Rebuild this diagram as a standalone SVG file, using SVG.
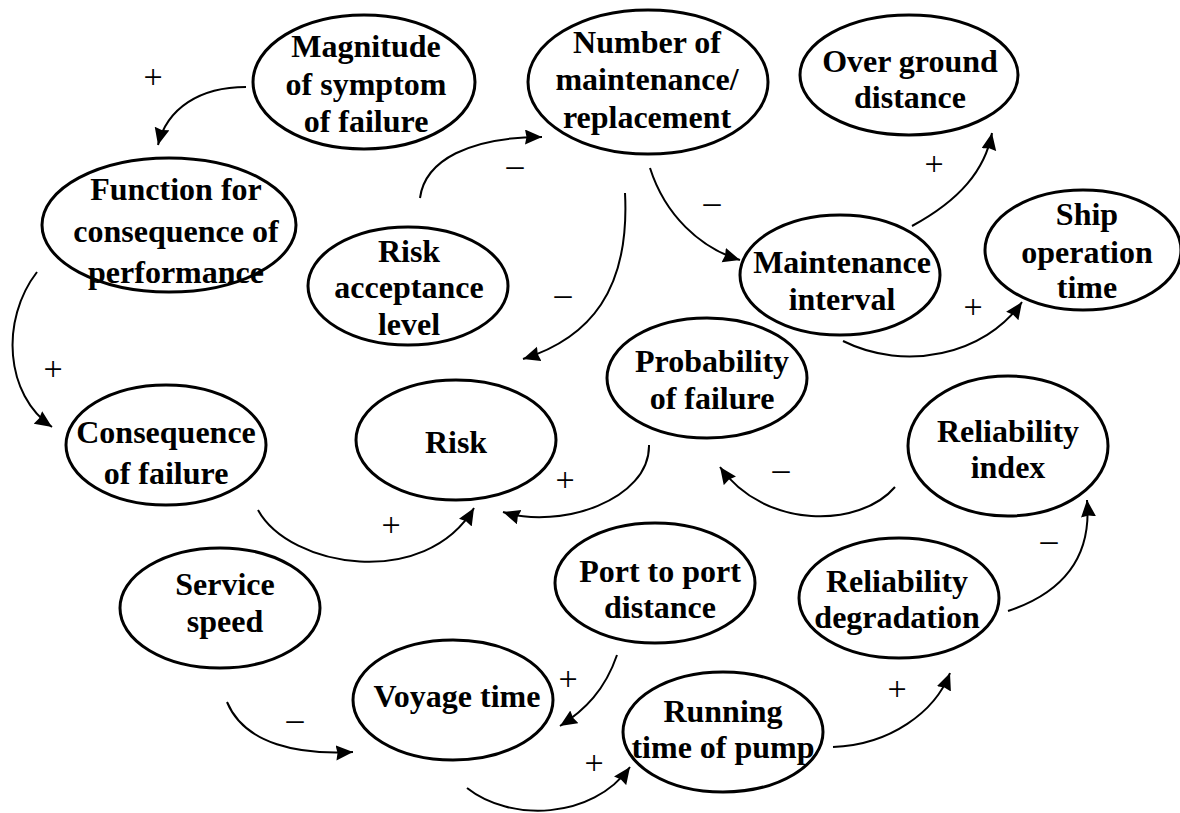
<svg xmlns="http://www.w3.org/2000/svg" width="1180" height="813" viewBox="0 0 1180 813">
  <style>
    .node ellipse { fill: #ffffff; stroke: #000000; stroke-width: 3; }
    .node text { font-family: "Liberation Serif", "Times New Roman", serif; font-weight: bold; font-size: 32px; text-anchor: middle; fill: #000000; }
    .link { fill: none; stroke: #000000; stroke-width: 2; marker-end: url(#arrow); }
    .sign { font-family: "Liberation Serif", "Times New Roman", serif; font-size: 34px; text-anchor: middle; fill: #000000; }
  </style>
  <defs>
    <marker id="arrow" markerUnits="userSpaceOnUse" markerWidth="18" markerHeight="16" refX="17" refY="7.5" orient="auto">
      <path d="M0,0 L17,7.5 L0,15 L1.5,7.5 z" fill="#000000"/>
    </marker>
  </defs>
  <rect width="1180" height="813" fill="#ffffff"/>

  <!-- causal links -->
  <g id="connectors">
    <path class="link" d="M246,87 C200,87 167,108 158,145"/>
    <path class="link" d="M37,272 C0,320 5,395 52,427"/>
    <path class="link" d="M420,198 C425,160 470,137 542,137"/>
    <path class="link" d="M650,168 C665,215 700,248 740,260"/>
    <path class="link" d="M625,193 C630,290 590,338 523,359"/>
    <path class="link" d="M912,226 C960,200 985,170 992,133"/>
    <path class="link" d="M843,341 C905,372 985,355 1022,302"/>
    <path class="link" d="M258,510 C290,568 425,590 474,508"/>
    <path class="link" d="M649,445 C650,500 560,530 503,512"/>
    <path class="link" d="M895,487 C860,528 765,530 720,467"/>
    <path class="link" d="M1008,611 C1065,592 1092,555 1087,500"/>
    <path class="link" d="M227,702 C245,745 300,755 353,752"/>
    <path class="link" d="M617,655 C605,690 585,710 560,726"/>
    <path class="link" d="M467,788 C510,822 592,820 630,767"/>
    <path class="link" d="M833,747 C890,745 935,712 950,673"/>
  </g>

  <!-- polarity signs -->
  <g id="signs">
    <text class="sign" x="153" y="88">+</text>
    <text class="sign" x="53" y="380">+</text>
    <text class="sign" x="515" y="176">–</text>
    <text class="sign" x="712" y="213">–</text>
    <text class="sign" x="563" y="305">–</text>
    <text class="sign" x="934" y="175">+</text>
    <text class="sign" x="973" y="318">+</text>
    <text class="sign" x="391" y="536">+</text>
    <text class="sign" x="565" y="491">+</text>
    <text class="sign" x="781" y="480">–</text>
    <text class="sign" x="1049" y="551">–</text>
    <text class="sign" x="295" y="730">–</text>
    <text class="sign" x="568" y="690">+</text>
    <text class="sign" x="594" y="774">+</text>
    <text class="sign" x="897" y="700">+</text>
  </g>

  <g id="magnitude" class="node">
    <ellipse cx="364" cy="82" rx="111" ry="67"/>
    <text x="366" y="57">Magnitude</text>
    <text x="366" y="95">of symptom</text>
    <text x="366" y="132">of failure</text>
  </g>
  <g id="number-maintenance" class="node">
    <ellipse cx="648" cy="82" rx="120" ry="72"/>
    <text x="647" y="53">Number of</text>
    <text x="647" y="90">maintenance/</text>
    <text x="647" y="128">replacement</text>
  </g>
  <g id="over-ground" class="node">
    <ellipse cx="909" cy="75" rx="109" ry="60"/>
    <text x="910" y="72">Over ground</text>
    <text x="910" y="108">distance</text>
  </g>
  <g id="function-consequence" class="node">
    <ellipse cx="169" cy="225" rx="127" ry="67"/>
    <text x="176" y="200">Function for</text>
    <text x="176" y="242">consequence of</text>
    <text x="176" y="283">performance</text>
  </g>
  <g id="risk-acceptance" class="node">
    <ellipse cx="408" cy="286" rx="100" ry="59"/>
    <text x="409" y="262">Risk</text>
    <text x="409" y="298">acceptance</text>
    <text x="409" y="335">level</text>
  </g>
  <g id="maintenance-interval" class="node">
    <ellipse cx="840" cy="275" rx="100" ry="60"/>
    <text x="842" y="273">Maintenance</text>
    <text x="842" y="310">interval</text>
  </g>
  <g id="ship-operation" class="node">
    <ellipse cx="1083" cy="250" rx="98" ry="60"/>
    <text x="1087" y="225">Ship</text>
    <text x="1087" y="263">operation</text>
    <text x="1087" y="298">time</text>
  </g>
  <g id="consequence" class="node">
    <ellipse cx="166" cy="445" rx="100" ry="60"/>
    <text x="166" y="443">Consequence</text>
    <text x="166" y="484">of failure</text>
  </g>
  <g id="risk" class="node">
    <ellipse cx="456" cy="440" rx="100" ry="60"/>
    <text x="456" y="453">Risk</text>
  </g>
  <g id="probability" class="node">
    <ellipse cx="707" cy="378" rx="100" ry="60"/>
    <text x="712" y="372">Probability</text>
    <text x="712" y="409">of failure</text>
  </g>
  <g id="reliability-index" class="node">
    <ellipse cx="1008" cy="446" rx="100" ry="70"/>
    <text x="1008" y="442">Reliability</text>
    <text x="1008" y="478">index</text>
  </g>
  <g id="service-speed" class="node">
    <ellipse cx="220" cy="608" rx="100" ry="60"/>
    <text x="225" y="595">Service</text>
    <text x="225" y="632">speed</text>
  </g>
  <g id="port-distance" class="node">
    <ellipse cx="655" cy="583" rx="100" ry="60"/>
    <text x="660" y="582">Port to port</text>
    <text x="660" y="618">distance</text>
  </g>
  <g id="reliability-degradation" class="node">
    <ellipse cx="899" cy="598" rx="100" ry="60"/>
    <text x="897" y="592">Reliability</text>
    <text x="897" y="628">degradation</text>
  </g>
  <g id="voyage-time" class="node">
    <ellipse cx="453" cy="700" rx="100" ry="60"/>
    <text x="457" y="707">Voyage time</text>
  </g>
  <g id="running-time" class="node">
    <ellipse cx="723" cy="732" rx="100" ry="60"/>
    <text x="723" y="722">Running</text>
    <text x="723" y="758">time of pump</text>
  </g>
</svg>
